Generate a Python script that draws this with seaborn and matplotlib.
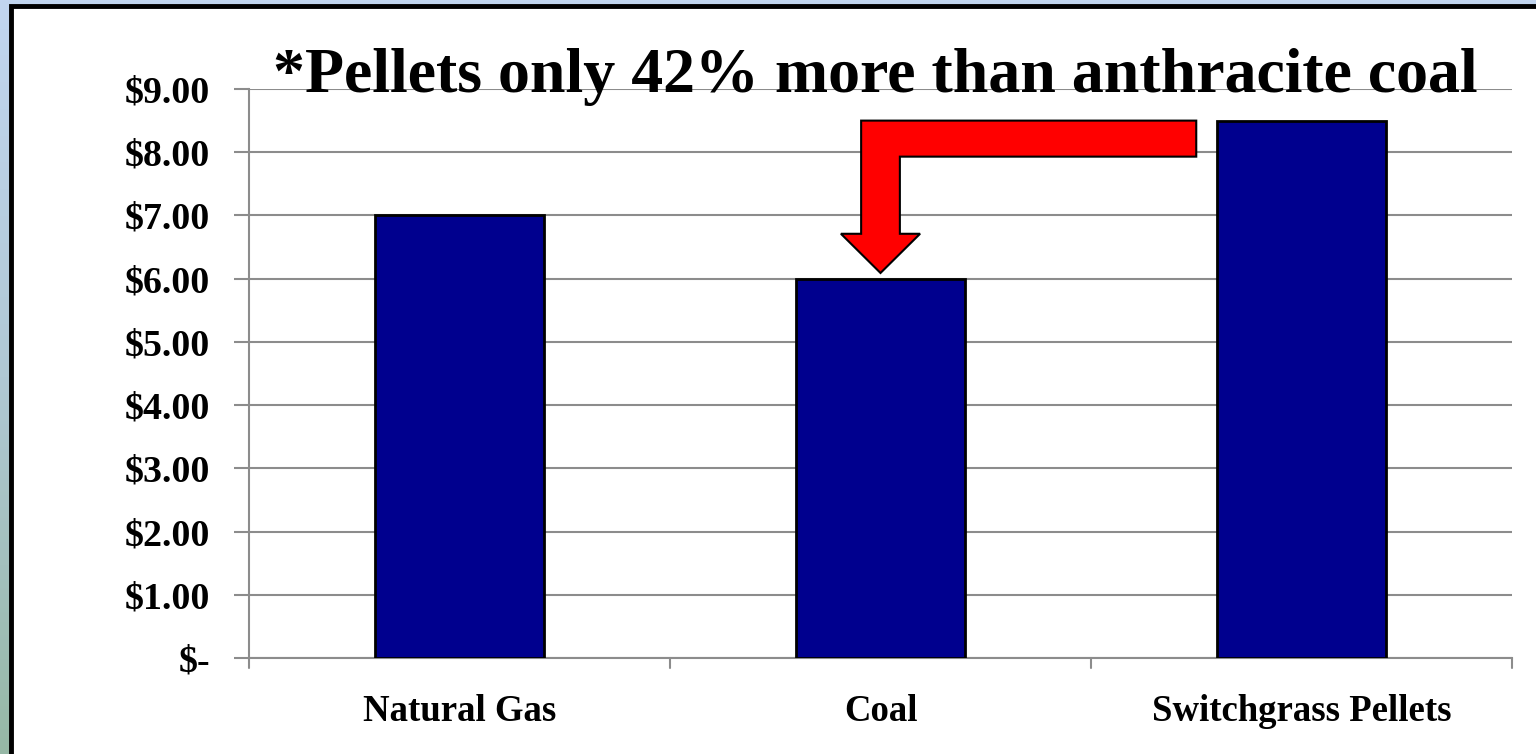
import numpy as np
import pandas as pd
import matplotlib
matplotlib.use("Agg")
import matplotlib.pyplot as plt
from matplotlib.patches import Polygon, Rectangle
from matplotlib.colors import LinearSegmentedColormap
import seaborn as sns

# Heating fuel cost per unit of energy
fuels = ["Natural Gas", "Coal", "Switchgrass Pellets"]
costs = [7.00, 6.00, 8.50]
y_ticks = [0, 1, 2, 3, 4, 5, 6, 7, 8, 9]
y_labels = ["$-", "$1.00", "$2.00", "$3.00", "$4.00", "$5.00",
            "$6.00", "$7.00", "$8.00", "$9.00"]
headline = "*Pellets only 42% more than anthracite coal"

df = pd.DataFrame({"fuel": fuels, "cost": costs})

sns.set_theme(style="white")
plt.rcParams["font.family"] = ["Liberation Serif", "DejaVu Serif"]
plt.rcParams["font.weight"] = "bold"
plt.rcParams["text.color"] = "black"
plt.rcParams["xtick.color"] = "black"
plt.rcParams["ytick.color"] = "black"

W, H = 1536, 754
fig = plt.figure(figsize=(W / 100, H / 100), dpi=100)

# slide background: soft blue-to-green gradient behind a white panel
bg = fig.add_axes([0, 0, 1, 1], zorder=-10)
grad = np.linspace(0, 1, 256).reshape(-1, 1)
cmap = LinearSegmentedColormap.from_list(
    "slide", ["#c2d6f0", "#b0c8d4", "#96b8a6"])
bg.imshow(grad, aspect="auto", cmap=cmap, extent=[0, 1, 0, 1])
bg.set_xlim(0, 1)
bg.set_ylim(0, 1)
bg.axis("off")
bg.add_patch(Rectangle((10.5 / W, -0.1), 1.2, 1 - 6.5 / H + 0.1,
                       transform=bg.transAxes, facecolor="white",
                       edgecolor="black", linewidth=3.5))

ax = fig.add_axes([249 / W, 1 - 658 / H, (1512 - 249) / W, (658 - 89) / H])
ax.patch.set_alpha(0)

sns.barplot(data=df, x="fuel", y="cost", ax=ax, color="#00008e",
            saturation=1, width=0.40, edgecolor="black", linewidth=2,
            zorder=3)

ax.set_xlim(-0.5, 2.5)
ax.set_ylim(0, 9)
ax.set_yticks(y_ticks)
ax.set_yticklabels(y_labels, fontsize=27.3, fontweight="bold", color="black")
ax.set_xticks(range(len(fuels)))
ax.set_xticklabels(fuels, fontsize=26.5, fontweight="bold", color="black")
ax.set_xlabel("")
ax.set_ylabel("")

ax.yaxis.grid(True, color="#8c8c8c", linewidth=1.5, zorder=0)
ax.set_axisbelow(True)
for s in ["top", "right"]:
    ax.spines[s].set_visible(False)
for s in ["left", "bottom"]:
    ax.spines[s].set_color("#8c8c8c")
    ax.spines[s].set_linewidth(1.5)

ax.tick_params(axis="y", length=11, width=1.5, color="#8c8c8c", pad=17,
               left=True, labelcolor="black")
ax.tick_params(axis="x", length=0, pad=26, labelcolor="black")
# category separators on the x axis
for b in [-0.5, 0.5, 1.5, 2.5]:
    ax.plot([b, b], [0, -0.16], color="#8c8c8c", linewidth=1.5,
            clip_on=False, zorder=2)

# bent arrow from the pellets bar down to the coal bar
tip_x, tip_y = 1, costs[1] + 0.09
top_y = costs[2]
shaft = 0.046
head = 0.094
arrow = Polygon([
    (tip_x, tip_y),
    (tip_x + head, 6.71),
    (tip_x + shaft, 6.71),
    (tip_x + shaft, 7.93),
    (1.75, 7.93),
    (1.75, top_y),
    (tip_x - shaft, top_y),
    (tip_x - shaft, 6.71),
    (tip_x - head, 6.71),
], closed=True, facecolor="#ff0000", edgecolor="black", linewidth=1.5,
    zorder=5)
ax.add_patch(arrow)

fig.text(875 / W, 1 - 92 / H, headline, ha="center", va="baseline",
         fontsize=46, fontweight="bold", color="black")

fig.savefig("out.png", dpi=100)
